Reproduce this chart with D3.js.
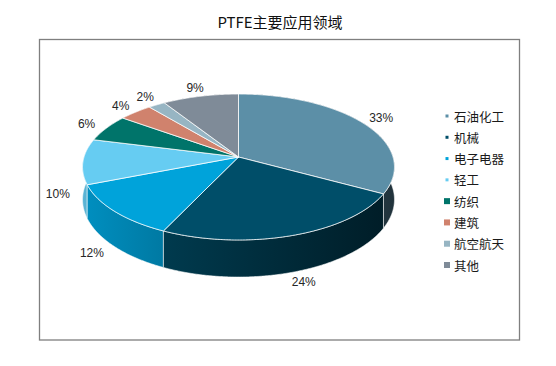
<!DOCTYPE html>
<html><head><meta charset="utf-8">
<script src="https://cdn.jsdelivr.net/npm/d3@7"></script>
<style>html,body{margin:0;padding:0;background:#fff;}</style>
</head><body>
<svg id="chart" width="556" height="366"></svg>
<script>
const title = "PTFE主要应用领域";
const categories = ["石油化工","机械","电子电器","轻工","纺织","建筑","航空航天","其他"];
const values = [33,24,12,10,6,4,2,9];
const valueLabels = ["33%","24%","12%","10%","6%","4%","2%","9%"];
const palette = ["#5c8fa7","#004e69","#00a3da","#66ccf2","#00746a","#d0826d","#97b5c3","#7f8b98"];

const svg = d3.select("#chart");
const W = 556, H = 366;
svg.append("rect").attr("width",W).attr("height",H).attr("fill","#fff");
svg.append("rect").attr("x",39.5).attr("y",39.5).attr("width",480).attr("height",300.5)
  .attr("fill","none").attr("stroke","#7f7f7f").attr("stroke-width",1.3);

svg.append("text").attr("x",280).attr("y",24).attr("text-anchor","middle")
  .attr("dominant-baseline","middle")
  .style("font-family","'Noto Sans CJK SC', sans-serif").style("font-size","15px").attr("fill","#111")
  .text(title);

// 3D perspective pie geometry
const cx = 238.5, cy = 157, K = 154.5, KS = 71.6, A = 0.137, DEPTH = 32;
function proj(theta, r, bottom){
  const X = r*Math.sin(theta), Z = -r*Math.cos(theta);
  const w = 1 - A*Z;
  return [cx + K*X/w, cy + KS*Z/w + (bottom ? DEPTH/w : 0)];
}
function arcPts(t0, t1, r, bottom){
  const n = Math.max(2, Math.ceil(Math.abs(t1-t0)/(Math.PI/360)));
  const pts = [];
  for(let i=0;i<=n;i++){ const t = t0 + (t1-t0)*i/n; pts.push(proj(t,r,bottom)); }
  return pts;
}
const line = d3.line();

const pie = d3.pie().sort(null).value(d=>d).startAngle(0).endAngle(2*Math.PI);
const arcs = pie(values);

const defs = svg.append("defs");
arcs.forEach((a,i)=>{
  const c = d3.rgb(palette[i]);
  const g = defs.append("linearGradient").attr("id","side"+i)
    .attr("gradientUnits","userSpaceOnUse").attr("x1",cx-K).attr("x2",cx+K).attr("y1",0).attr("y2",0);
  const sc = (f)=>d3.rgb(c.r*f,c.g*f,c.b*f).toString();
  g.append("stop").attr("offset","0%").attr("stop-color",sc(0.88));
  g.append("stop").attr("offset","100%").attr("stop-color",sc(0.36));
});

// side walls, back to front
const order = arcs.map((a,i)=>i).sort((i,j)=>{
  const zi = -Math.cos((arcs[i].startAngle+arcs[i].endAngle)/2);
  const zj = -Math.cos((arcs[j].startAngle+arcs[j].endAngle)/2);
  return zi - zj;
});
const gSide = svg.append("g");
order.forEach(i=>{
  const a = arcs[i];
  const top = arcPts(a.startAngle, a.endAngle, 1, false);
  const bot = arcPts(a.endAngle, a.startAngle, 1, true);
  gSide.append("path").attr("d", line(top.concat(bot))+"Z")
    .attr("fill","url(#side"+i+")").attr("stroke","rgba(255,255,255,0.7)").attr("stroke-width",0.8);
});

// tops
const gTop = svg.append("g");
arcs.forEach((a,i)=>{
  const pts = [[cx,cy]].concat(arcPts(a.startAngle, a.endAngle, 1, false));
  gTop.append("path").attr("d", line(pts)+"Z")
    .attr("fill", palette[i]).attr("stroke","rgba(255,255,255,0.85)").attr("stroke-width",0.9)
    .attr("stroke-linejoin","round");
});

// labels
const gLab = svg.append("g").style("font-family","'Liberation Sans', Arial, sans-serif").style("font-size","12px");
arcs.forEach((a,i)=>{
  const mid = (a.startAngle+a.endAngle)/2;
  const Z = -Math.cos(mid);
  const p = proj(mid, 1.16, false);
  const t = Math.max(0, Math.min(1, (Z+0.45)/0.5));
  const s = t*t*(3-2*t);
  gLab.append("text").attr("x",p[0]).attr("y",p[1] + s*DEPTH)
    .attr("text-anchor","middle").attr("dominant-baseline","central")
    .attr("fill","#262626").text(valueLabels[i]);
});

// legend
const ly = d3.scalePoint().domain(categories).range([116,265]);
const gLeg = svg.append("g");
categories.forEach((c,i)=>{
  const s = i < 4 ? 3 : 6;
  gLeg.append("rect").attr("x",447 - s/2).attr("y",ly(c) - s/2).attr("width",s).attr("height",s)
    .attr("fill",palette[i]);
  gLeg.append("text").attr("x",454).attr("y",ly(c)).attr("dominant-baseline","central")
    .style("font-family","'Noto Sans CJK SC', sans-serif").style("font-size","12.5px").attr("fill","#1a1a1a")
    .text(c);
});
</script>
</body></html>
